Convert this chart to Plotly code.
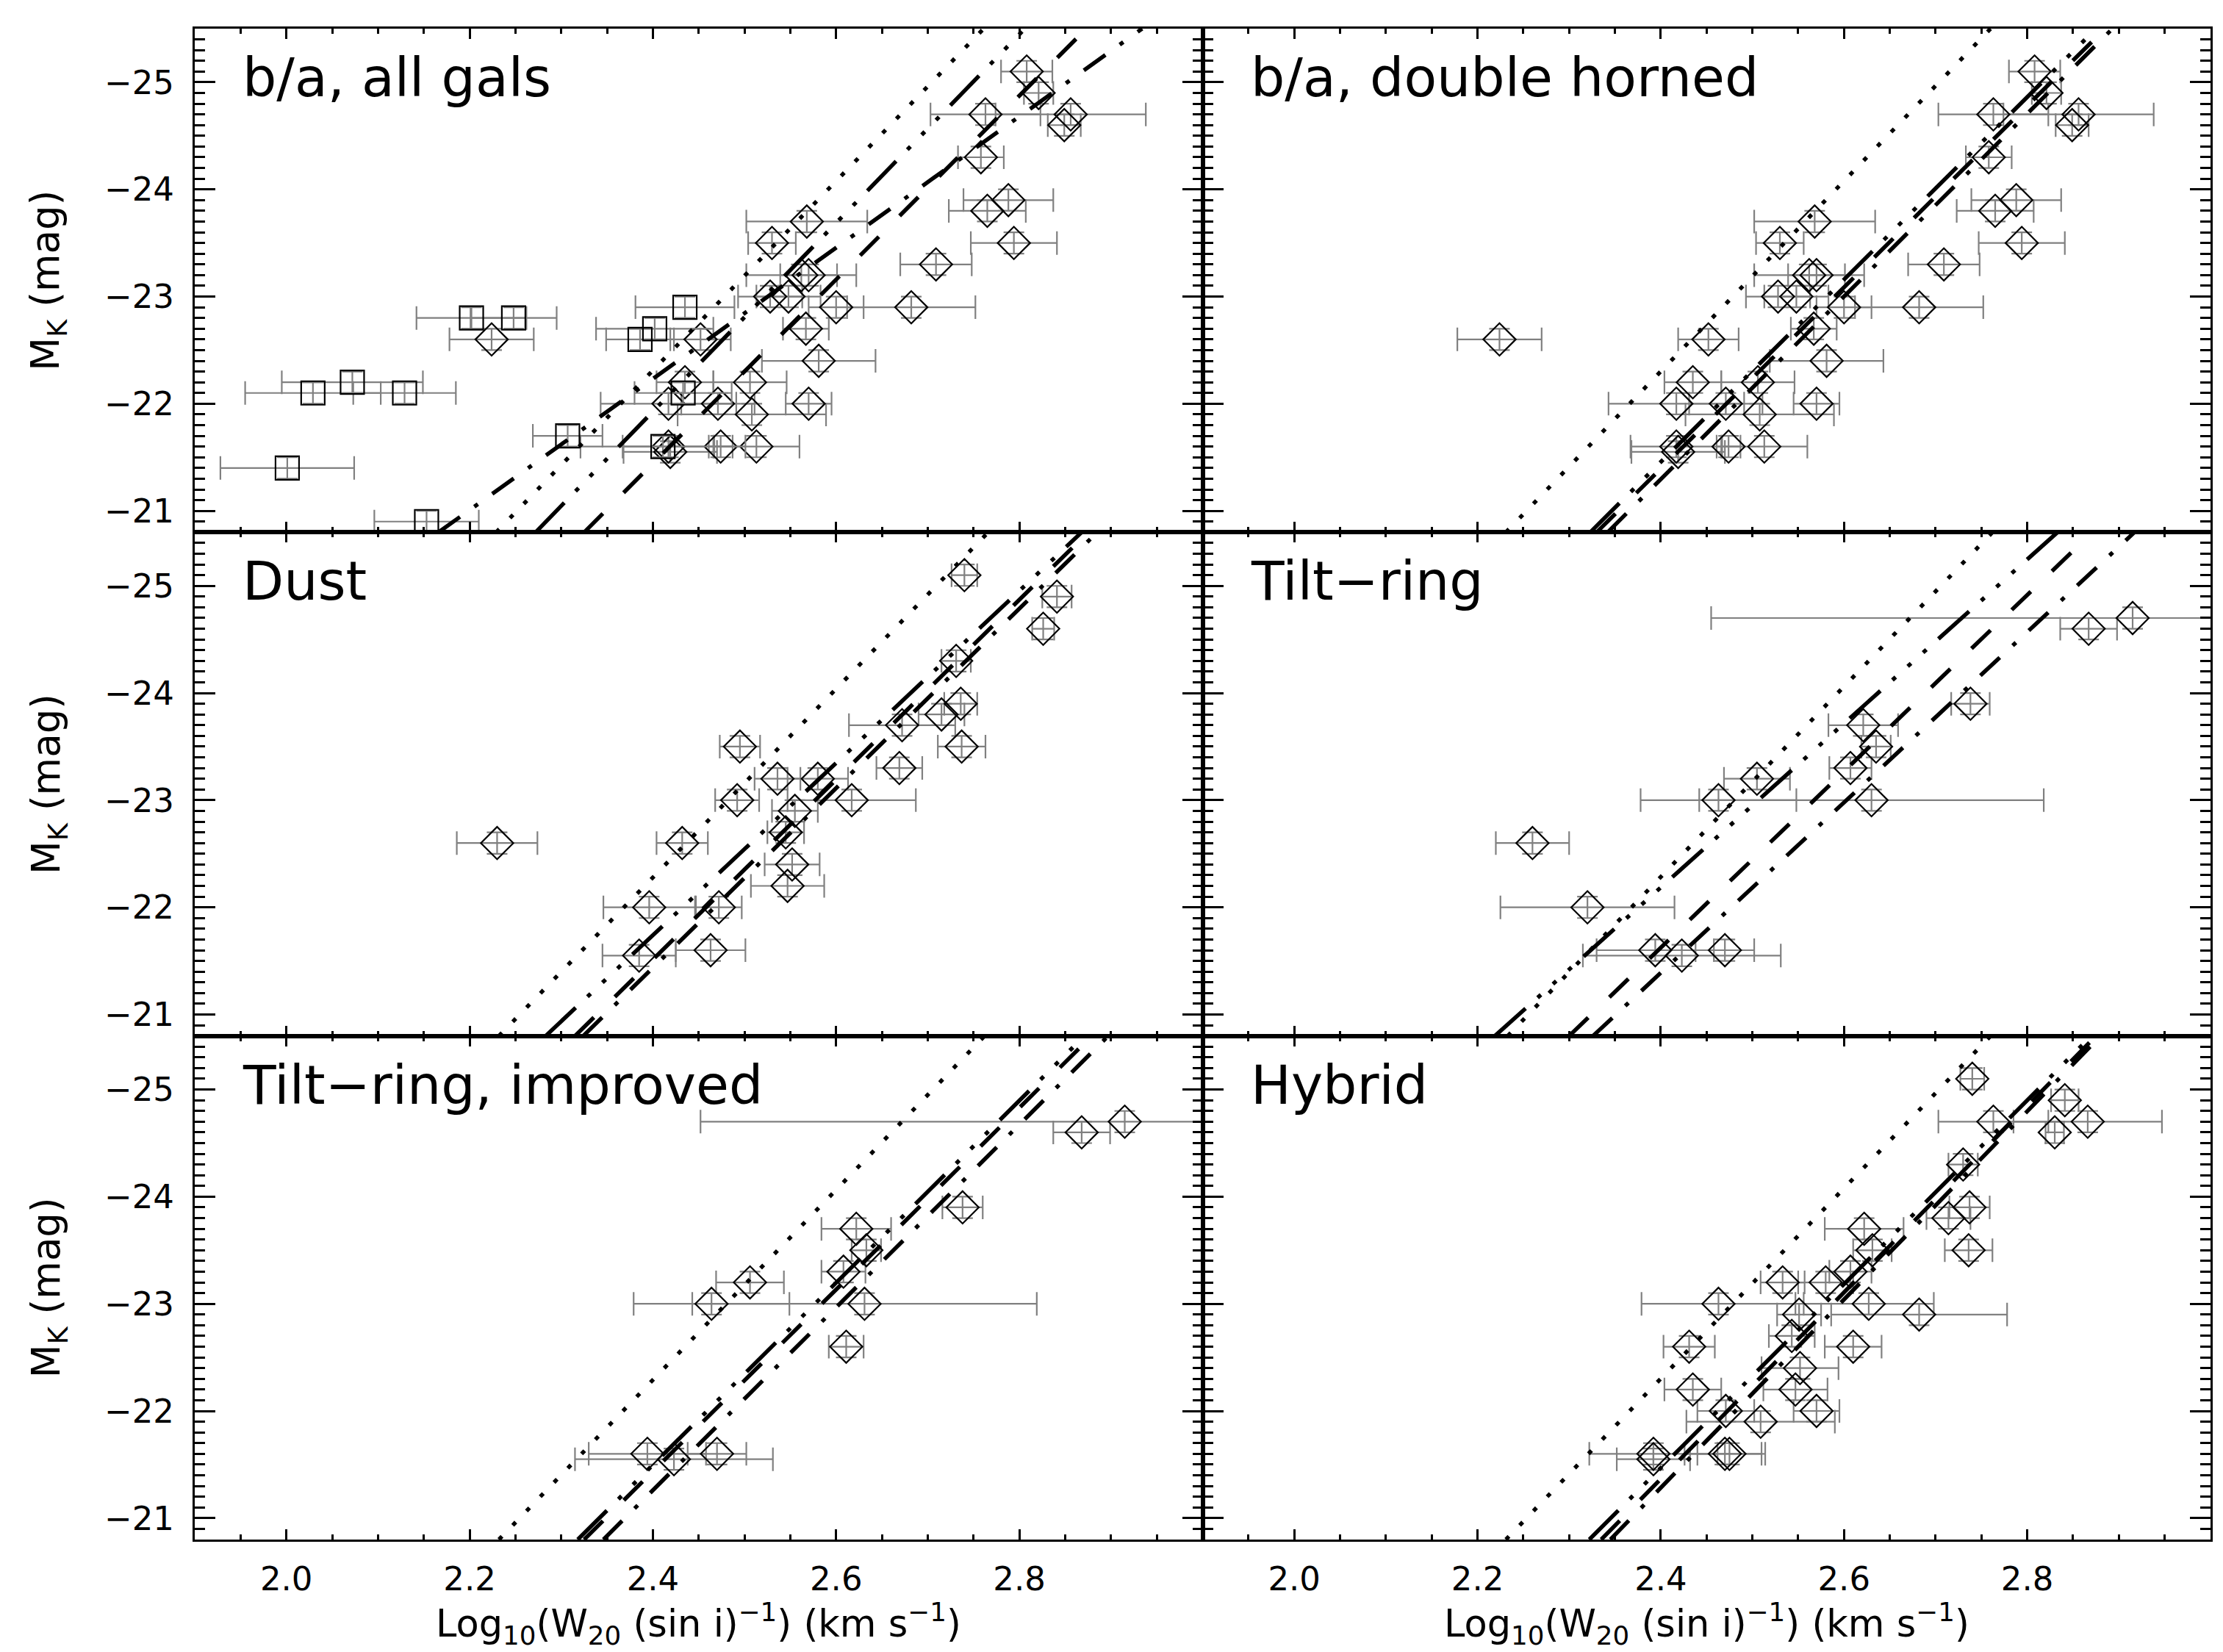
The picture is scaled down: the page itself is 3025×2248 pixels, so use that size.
import plotly.graph_objects as go

# ---------------- data ----------------
# b/a, all galaxies -- diamonds (same galaxies shown in "b/a, double horned")
ba_logw = [2.224, 2.568, 2.530, 2.562, 2.570, 2.709, 2.528, 2.548, 2.600, 2.682, 2.567, 2.452,
           2.581, 2.435, 2.506, 2.417, 2.471, 2.570, 2.508, 2.417, 2.419, 2.474, 2.513, 2.808,
           2.821, 2.763, 2.856, 2.849, 2.758, 2.788, 2.765, 2.794]
ba_mk = [-22.6, -23.7, -23.5, -23.2, -23.2, -23.3, -23.0, -23.0, -22.9, -22.9, -22.7, -22.6,
         -22.4, -22.2, -22.2, -22.0, -22.0, -22.0, -21.9, -21.6, -21.55, -21.6, -21.6, -25.1,
         -24.9, -24.7, -24.7, -24.6, -24.3, -23.9, -23.8, -23.5]
ba_xerr = [0.046, 0.066, 0.026, 0.060, 0.031, 0.039, 0.035, 0.035, 0.030, 0.070, 0.025, 0.033,
           0.062, 0.031, 0.040, 0.074, 0.040, 0.025, 0.081, 0.050, 0.051, 0.013, 0.047, 0.028,
           0.016, 0.060, 0.082, 0.018, 0.025, 0.049, 0.042, 0.047]

# b/a, all galaxies -- squares (non double-horned profiles)
sq_logw = [2.001, 2.029, 2.072, 2.129, 2.153, 2.202, 2.248, 2.307, 2.386, 2.402, 2.435, 2.433, 2.411]
sq_mk = [-21.4, -22.1, -22.2, -22.1, -20.9, -22.8, -22.8, -21.7, -22.6, -22.7, -22.9, -22.1, -21.6]
sq_xerr = [0.073, 0.074, 0.077, 0.056, 0.057, 0.060, 0.047, 0.038, 0.037, 0.064, 0.054, 0.053, 0.090]

# Dust
dust_logw = [2.230, 2.495, 2.536, 2.580, 2.492, 2.555, 2.432, 2.545, 2.552, 2.547, 2.396, 2.472,
             2.385, 2.463, 2.740, 2.841, 2.826, 2.731, 2.736, 2.715, 2.737, 2.672, 2.669, 2.617]
dust_mk = [-22.6, -23.5, -23.2, -23.2, -23.0, -22.9, -22.6, -22.7, -22.4, -22.2, -22.0, -22.0,
           -21.55, -21.6, -25.1, -24.9, -24.6, -24.3, -23.9, -23.8, -23.5, -23.7, -23.3, -23.0]
dust_xerr = [0.044, 0.022, 0.025, 0.033, 0.024, 0.025, 0.028, 0.020, 0.030, 0.040, 0.050, 0.025,
             0.040, 0.038, 0.014, 0.016, 0.012, 0.016, 0.018, 0.025, 0.026, 0.058, 0.025, 0.070]

# Tilt-ring
tr_logw = [2.915, 2.867, 2.738, 2.621, 2.635, 2.607, 2.505, 2.463, 2.630, 2.260, 2.320, 2.394, 2.423, 2.470]
tr_mk = [-24.7, -24.6, -23.9, -23.7, -23.5, -23.3, -23.2, -23.0, -23.0, -22.6, -22.0, -21.6, -21.55, -21.6]
tr_xerr = [0.460, 0.031, 0.021, 0.038, 0.016, 0.023, 0.036, 0.085, 0.188, 0.040, 0.095, 0.064, 0.108, 0.032]

# Tilt-ring, improved
tri_logw = [2.915, 2.868, 2.738, 2.622, 2.633, 2.608, 2.506, 2.464, 2.631, 2.611, 2.394, 2.423, 2.470]
tri_mk = [-24.7, -24.6, -23.9, -23.7, -23.5, -23.3, -23.2, -23.0, -23.0, -22.6, -21.6, -21.55, -21.6]
tri_xerr = [0.463, 0.031, 0.022, 0.038, 0.016, 0.024, 0.037, 0.085, 0.188, 0.019, 0.064, 0.108, 0.032]

# Hybrid
hyb_logw = [2.740, 2.841, 2.763, 2.866, 2.830, 2.730, 2.737, 2.714, 2.736, 2.622, 2.631, 2.607,
            2.533, 2.580, 2.463, 2.627, 2.682, 2.551, 2.543, 2.431, 2.610, 2.552, 2.435, 2.547,
            2.471, 2.570, 2.509, 2.392, 2.392, 2.470, 2.475]
hyb_mk = [-25.1, -24.9, -24.7, -24.7, -24.6, -24.3, -23.9, -23.8, -23.5, -23.7, -23.5, -23.3,
          -23.2, -23.2, -23.0, -23.0, -22.9, -22.9, -22.7, -22.6, -22.6, -22.4, -22.2, -22.2,
          -22.0, -22.0, -21.9, -21.6, -21.55, -21.6, -21.6]
hyb_xerr = [0.013, 0.015, 0.060, 0.081, 0.010, 0.016, 0.022, 0.024, 0.026, 0.043, 0.021, 0.023,
            0.024, 0.030, 0.084, 0.071, 0.096, 0.024, 0.025, 0.028, 0.031, 0.042, 0.031, 0.035,
            0.031, 0.025, 0.081, 0.070, 0.040, 0.044, 0.035]

mk_err = 0.1  # magnitude error bar (half-length)

panel_labels = ["b/a, all gals", "b/a, double horned", "Dust", "Tilt\u2212ring",
                "Tilt\u2212ring, improved", "Hybrid"]

# Tully-Fisher relations: log W where each line meets M_K = line_mk[0] and line_mk[1]
line_mk = [-20.8, -25.5]
tf_dotted = [(2.229, 2.761), (2.231, 2.760), (2.232, 2.766), (2.233, 2.762), (2.232, 2.762), (2.231, 2.760)]
tf_dash3dot = [(2.272, 2.806), (2.323, 2.875), (2.283, 2.868), (2.219, 2.833), (2.318, 2.871), (2.322, 2.870)]
tf_longdash = [(2.325, 2.873), (2.330, 2.885), (2.315, 2.875), (2.300, 2.871), (2.325, 2.879), (2.335, 2.875)]
tf_dashdot = [(2.166, 2.934), (2.342, 2.893), (2.324, 2.885), (2.326, 2.917), (2.346, 2.897), (2.345, 2.880)]

x_range = [1.9, 3.0]
y_range = [-20.8, -25.5]
x_ticks = [2.0, 2.2, 2.4, 2.6, 2.8]
y_ticks = [-25, -24, -23, -22, -21]

# ---------------- figure ----------------
W, H = 3025, 2248
ML, MR, MT, MB = 257, 25, 31, 161
FONT = "DejaVu Sans"
GREY = "#808080"

panels = [
    [(ba_logw, ba_mk, ba_xerr, "diamond-open", 34), (sq_logw, sq_mk, sq_xerr, "square-open", 32)],
    [(ba_logw, ba_mk, ba_xerr, "diamond-open", 34)],
    [(dust_logw, dust_mk, dust_xerr, "diamond-open", 34)],
    [(tr_logw, tr_mk, tr_xerr, "diamond-open", 34)],
    [(tri_logw, tri_mk, tri_xerr, "diamond-open", 34)],
    [(hyb_logw, hyb_mk, hyb_xerr, "diamond-open", 34)],
]

line_styles = [
    (tf_dotted, "6px,21px"),
    (tf_dash3dot, "56px,22px,6px,22px,6px,22px,6px,22px"),
    (tf_longdash, "36px,40px"),
    (tf_dashdot, "36px,24px,6px,24px"),
]

fig = go.Figure()
layout = dict(width=W, height=H, margin=dict(l=ML, r=MR, t=MT, b=MB),
              paper_bgcolor="white", plot_bgcolor="white", showlegend=False,
              font=dict(family=FONT, color="black"))

annotations = []
for i in range(6):
    row, col = divmod(i, 2)
    ax = "" if i == 0 else str(i + 1)
    xref, yref = "x" + ax, "y" + ax
    xdom = [0.0, 0.5] if col == 0 else [0.5, 1.0]
    ydom = [[2 / 3, 1.0], [1 / 3, 2 / 3], [0.0, 1 / 3]][row]

    for (xs, ys, xe, sym, size) in panels[i]:
        fig.add_trace(go.Scatter(
            x=xs, y=ys, mode="markers", xaxis=xref, yaxis=yref,
            marker=dict(symbol=sym, size=size, color="black", line=dict(width=2.2, color="black")),
            error_x=dict(type="data", array=xe, color=GREY, thickness=2.2, width=16),
            error_y=dict(type="constant", value=mk_err, color=GREY, thickness=2.2, width=14),
        ))
    for (ends, dash) in line_styles:
        x0, x1 = ends[i]
        fig.add_trace(go.Scatter(
            x=[x0, x1], y=line_mk, mode="lines", xaxis=xref, yaxis=yref,
            line=dict(color="black", width=5.5, dash=dash),
        ))

    layout["xaxis" + ax] = dict(
        domain=xdom, anchor=yref, range=x_range, tickmode="array", tickvals=x_ticks,
        ticktext=[f"{v:.1f}" for v in x_ticks],
        ticks="inside", ticklen=14, tickwidth=2.5, tickcolor="black",
        showline=True, linewidth=3, linecolor="black", mirror="allticks",
        showgrid=False, zeroline=False, showticklabels=(row == 2),
        tickfont=dict(family=FONT, size=45, color="black"), ticklabelstandoff=12,
        minor=dict(tickmode="linear", tick0=1.9, dtick=0.05, ticks="inside", ticklen=7,
                   tickwidth=2.5, tickcolor="black", showgrid=False),
    )
    layout["yaxis" + ax] = dict(
        domain=ydom, anchor=xref, range=y_range, tickmode="array", tickvals=y_ticks,
        ticks="inside", ticklen=28, tickwidth=2.5, tickcolor="black",
        showline=True, linewidth=3, linecolor="black", mirror="allticks",
        showgrid=False, zeroline=False, showticklabels=(col == 0),
        tickfont=dict(family=FONT, size=45, color="black"), ticklabelstandoff=16,
        minor=dict(tickmode="linear", tick0=-25, dtick=0.1, ticks="inside", ticklen=14,
                   tickwidth=2.5, tickcolor="black", showgrid=False),
    )

    annotations.append(dict(
        text=panel_labels[i], xref=xref + " domain", yref=yref + " domain",
        x=0.046, y=0.968, xanchor="left", yanchor="top", showarrow=False,
        font=dict(family=FONT, size=73, color="black"),
    ))

    if col == 0:
        annotations.append(dict(
            text="M<sub>K</sub> (mag)", xref="paper", yref="paper",
            x=0, xshift=-199, y=(ydom[0] + ydom[1]) / 2, xanchor="center", yanchor="middle",
            textangle=-90, showarrow=False, font=dict(family=FONT, size=53, color="black"),
        ))
    if row == 2:
        annotations.append(dict(
            text="Log<sub>10</sub>(W<sub>20</sub> (sin i)<sup>\u22121</sup>) (km s<sup>\u22121</sup>)",
            xref="paper", yref="paper", x=(xdom[0] + xdom[1]) / 2, y=0, yshift=-114,
            xanchor="center", yanchor="middle", showarrow=False,
            font=dict(family=FONT, size=51, color="black"),
        ))

layout["annotations"] = annotations
fig.update_layout(**layout)
fig.write_html("out.html")
